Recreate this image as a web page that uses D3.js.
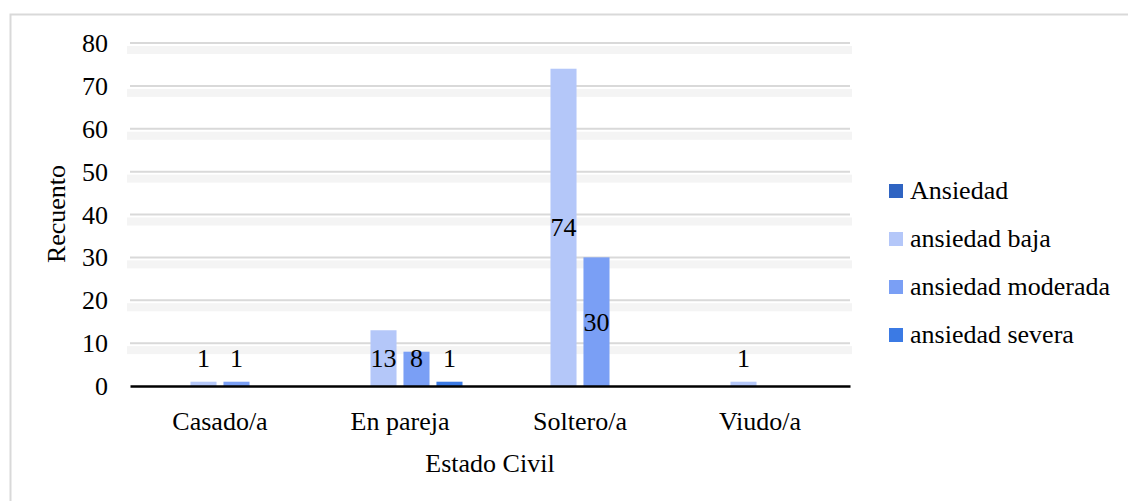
<!DOCTYPE html>
<html><head><meta charset="utf-8">
<script src="https://cdn.jsdelivr.net/npm/d3@7"></script>
<style>
body{margin:0;background:#fff;}
svg text{font-family:"Liberation Serif","Tinos","Times New Roman","Noto Serif","DejaVu Serif",serif !important;fill:#000;}
</style></head>
<body><svg id="c" width="1128" height="501"></svg>
<script>
const categories = ["Casado/a","En pareja","Soltero/a","Viudo/a"];
const seriesNames = ["Ansiedad","ansiedad baja","ansiedad moderada","ansiedad severa"];
const ansiedad = [0,0,0,0];
const ansiedadBaja = [1,13,74,1];
const ansiedadModerada = [1,8,30,0];
const ansiedadSevera = [0,1,0,0];
const yTicks = [0,10,20,30,40,50,60,70,80];
const colors = ["#2f64c2","#b4c7f9","#7a9ff5","#3b7ae4"];
const seriesValues = [ansiedad, ansiedadBaja, ansiedadModerada, ansiedadSevera];
const FS = 26;

const svg = d3.select("#c");
svg.append("rect").attr("x",10.5).attr("y",14.5).attr("width",1200).attr("height",600)
  .attr("fill","#fff").attr("stroke","#d9d9d9").attr("stroke-width",2);

const x0 = d3.scaleBand().domain(categories).range([130,850]).padding(0);
const x1 = d3.scaleBand().domain(seriesNames).range([27.5,152.5]).paddingInner(0.21).paddingOuter(0);
const y = d3.scaleLinear().domain([0,80]).range([386,43]);

// gridlines
const grid = svg.append("g");
grid.selectAll("rect.sh").data(yTicks.filter(d=>d>0)).join("rect").attr("class","sh")
  .attr("x",127).attr("width",725).attr("y",d=>y(d)+3).attr("height",8)
  .attr("fill","#f4f4f4");
grid.selectAll("line").data(yTicks.filter(d=>d>0)).join("line")
  .attr("x1",130).attr("x2",850).attr("y1",d=>y(d)).attr("y2",d=>y(d))
  .attr("stroke","#d9d9d9").attr("stroke-width",2);

// y tick labels
const yAxis = d3.axisLeft(y).tickValues(yTicks).tickSize(0).tickPadding(0);
const ya = svg.append("g").attr("transform","translate(108,0)").call(yAxis);
ya.attr("font-family",null);
ya.select(".domain").remove();
ya.selectAll("text").attr("font-size",FS).attr("dy","0.33em");

// bars
const rows = [];
categories.forEach((c,i)=>seriesNames.forEach((s,j)=>rows.push({c,s,j,v:seriesValues[j][i]})));
svg.append("g").selectAll("rect").data(rows.filter(d=>d.v>0)).join("rect")
  .attr("x",d=>x0(d.c)+x1(d.s)).attr("width",x1.bandwidth())
  .attr("y",d=>y(d.v)).attr("height",d=>y(0)-y(d.v))
  .attr("fill",d=>colors[d.j]);

// x axis
const xAxis = d3.axisBottom(x0).tickSize(0).tickPadding(0);
const xa = svg.append("g").attr("transform","translate(0,386)").call(xAxis);
xa.attr("font-family",null);
xa.select(".domain").attr("stroke","#000").attr("stroke-width",2.5);
xa.selectAll("text").attr("font-size",FS).attr("y",44).attr("dy",0);

// value labels
svg.append("g").selectAll("text").data(rows.filter(d=>d.v>0)).join("text")
  .attr("x",d=>x0(d.c)+x1(d.s)+x1.bandwidth()/2)
  .attr("y",d=>y(Math.max(d.v/2,6.5))+9)
  .attr("text-anchor","middle").attr("font-size",FS)
  .text(d=>d.v);

// axis titles
svg.append("text").attr("x",490).attr("y",472).attr("text-anchor","middle").attr("font-size",FS).text("Estado Civil");
svg.append("text").attr("transform","translate(65,214) rotate(-90)").attr("text-anchor","middle").attr("font-size",FS).text("Recuento");

// legend
const lg = svg.append("g");
seriesNames.forEach((s,i)=>{
  const cy = 191 + i*48;
  lg.append("rect").attr("x",889).attr("y",cy-7).attr("width",14).attr("height",14).attr("fill",colors[i]);
  lg.append("text").attr("x",910).attr("y",cy+8).attr("font-size",FS).text(s);
});
</script></body></html>
